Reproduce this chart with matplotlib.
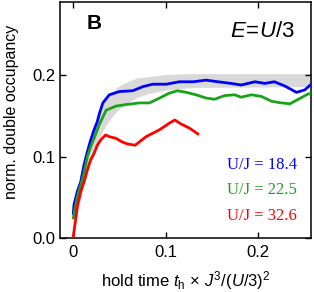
import matplotlib
matplotlib.use('Agg')
import matplotlib.pyplot as plt

plt.rcParams['font.family'] = ['Liberation Sans', 'DejaVu Sans']
plt.rcParams['mathtext.fontset'] = 'custom'
plt.rcParams['mathtext.rm'] = 'Liberation Sans'
plt.rcParams['mathtext.it'] = 'Liberation Sans:italic'

# theory band (grey)
band_t = [0, 0.005, 0.01, 0.015, 0.02, 0.025, 0.03, 0.035, 0.04, 0.045, 0.05, 0.06, 0.07, 0.08, 0.10, 0.13, 0.26]
band_hi = [0, 0.047, 0.083, 0.110, 0.131, 0.148, 0.160, 0.170, 0.177, 0.183, 0.187, 0.193, 0.197, 0.198, 0.201, 0.202, 0.202]
band_lo = [0, 0.033, 0.059, 0.081, 0.100, 0.115, 0.127, 0.138, 0.146, 0.153, 0.159, 0.167, 0.173, 0.177, 0.182, 0.185, 0.186]

# U/J = 18.4
blue_t = [0, 0.0007, 0.0043, 0.008, 0.0116, 0.0152, 0.0188, 0.0225, 0.026, 0.0283, 0.032, 0.039, 0.050,
          0.0645, 0.0754, 0.086, 0.1007, 0.115, 0.130, 0.144, 0.157, 0.171, 0.182, 0.197, 0.2076, 0.218,
          0.229, 0.242, 0.251, 0.259]
blue_v = [0.030, 0.041, 0.057, 0.069, 0.090, 0.106, 0.1205, 0.133, 0.143, 0.153, 0.166, 0.176, 0.180,
          0.181, 0.186, 0.189, 0.189, 0.192, 0.192, 0.194, 0.192, 0.190, 0.188, 0.192, 0.190, 0.192,
          0.187, 0.179, 0.182, 0.190]

# U/J = 22.5
green_t = [0, 0.0043, 0.008, 0.0116, 0.0152, 0.0188, 0.0225, 0.028, 0.0355, 0.046, 0.057, 0.0717, 0.0826,
           0.0935, 0.104, 0.113, 0.1225, 0.133, 0.144, 0.153, 0.164, 0.175, 0.182, 0.193, 0.204, 0.215,
           0.2257, 0.235, 0.244, 0.2547, 0.259]
green_v = [0.0246, 0.051, 0.065, 0.080, 0.100, 0.112, 0.1226, 0.139, 0.157, 0.162, 0.164, 0.166, 0.166,
           0.172, 0.178, 0.181, 0.179, 0.176, 0.172, 0.1705, 0.175, 0.176, 0.173, 0.176, 0.174, 0.168,
           0.166, 0.165, 0.1705, 0.177, 0.178]

# U/J = 32.6
red_t = [0, 0.0014, 0.0043, 0.008, 0.0116, 0.0152, 0.0188, 0.0225, 0.026, 0.0297, 0.035, 0.0388, 0.046,
         0.053, 0.0587, 0.067, 0.079, 0.0935, 0.104, 0.110, 0.117, 0.126, 0.133, 0.135]
red_v = [0.0016, 0.0139, 0.0385, 0.057, 0.069, 0.0836, 0.096, 0.104, 0.114, 0.1205, 0.1267, 0.1246, 0.1226,
         0.118, 0.1156, 0.114, 0.1246, 0.133, 0.141, 0.145, 0.140, 0.135, 0.1295, 0.128]

labels = ['U/J = 18.4', 'U/J = 22.5', 'U/J = 32.6']
colors = ['#0000ff', '#1aa31a', '#ff0000']

fig = plt.figure(figsize=(3.14, 2.92), dpi=100)
ax = fig.add_axes([0.191, 0.185, 0.799, 0.808])

ax.fill_between(band_t, band_lo, band_hi, color='#d9d9d9', lw=0, zorder=1)
ax.plot(blue_t, blue_v, color=colors[0], lw=2, zorder=3)
ax.plot(green_t, green_v, color=colors[1], lw=2, zorder=3)
ax.plot(red_t, red_v, color=colors[2], lw=2, zorder=3)

ax.set_xlim(-0.0145, 0.2576)
ax.set_ylim(0, 0.29)
ax.set_xticks([0, 0.1, 0.2])
ax.set_xticklabels(['0', '0.1', '0.2'])
ax.set_yticks([0, 0.1, 0.2])
ax.set_yticklabels(['0.0', '0.1', '0.2'])
ax.tick_params(direction='in', length=4, width=1, top=True, right=True, labelsize=12)
ax.tick_params(axis='x', pad=5)
ax.tick_params(axis='y', pad=3)
for s in ax.spines.values():
    s.set_linewidth(1.1)

ax.set_ylabel('norm. double occupancy', fontsize=11.5)
ax.yaxis.set_label_coords(-0.163, 0.534)
ax.set_xlabel(r'hold time $t_\mathrm{h}\,\times\,J^3/(U/3)^2$', fontsize=12)
ax.xaxis.set_label_coords(0.5, -0.13)

ax.text(0.105, 0.91, 'B', transform=ax.transAxes, fontsize=15, fontweight='bold', va='center', ha='left')
ax.text(0.808, 0.875, r'$E\!=\!U/3$', transform=ax.transAxes, fontsize=16, va='center', ha='center')

for i, (lab, c) in enumerate(zip(labels, colors)):
    ax.text(0.945, 0.31 - i * 0.108, lab, transform=ax.transAxes, color=c, fontsize=12,
            family='Liberation Serif', ha='right', va='center')

fig.savefig('out.png', dpi=100)
